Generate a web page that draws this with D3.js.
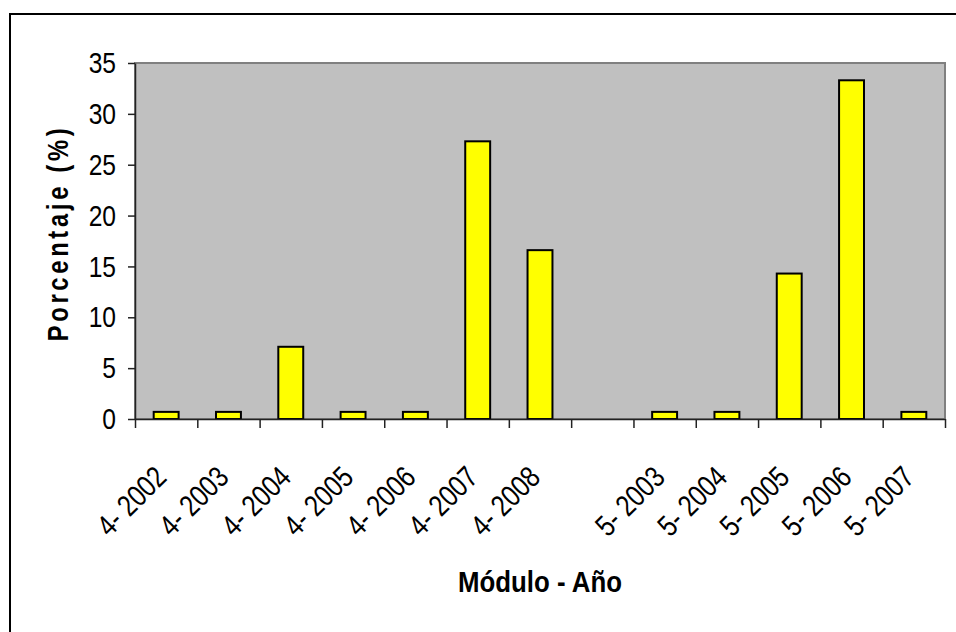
<!DOCTYPE html>
<html>
<head>
<meta charset="utf-8">
<script src="https://cdn.jsdelivr.net/npm/d3@7"></script>
<style>
  html, body { margin: 0; padding: 0; background: #ffffff; }
  svg { display: block; }
  text { font-family: "Liberation Sans", Arial, sans-serif; fill: #000; }
</style>
</head>
<body>
<script>
const categories = ["4- 2002","4- 2003","4- 2004","4- 2005","4- 2006","4- 2007","4- 2008","","5- 2003","5- 2004","5- 2005","5- 2006","5- 2007"];
const values = [0.7, 0.7, 7.1, 0.7, 0.7, 27.3, 16.6, null, 0.7, 0.7, 14.3, 33.3, 0.7];
const yTicks = [0, 5, 10, 15, 20, 25, 30, 35];
const yTitle = "Porcentaje (%)";
const xTitle = "Módulo - Año";

const W = 956, H = 632;
const plot = { left: 135, right: 945, top: 63, bottom: 419 };
const SX = 0.82; // narrow font look

const svg = d3.select("body").append("svg").attr("width", W).attr("height", H);

// outer chart frame (extends past right / bottom edges)
svg.append("rect").attr("x", 10).attr("y", 14).attr("width", 1000).attr("height", 700)
  .attr("fill", "#fff").attr("stroke", "#000").attr("stroke-width", 2);

const idx = d3.range(categories.length);
const x = d3.scaleBand().domain(idx).range([plot.left, plot.right])
  .paddingInner(0.6).paddingOuter(0.3);
const xb = d3.scaleLinear().domain([0, categories.length]).range([plot.left, plot.right]);
const y = d3.scaleLinear().domain([0, 35]).range([plot.bottom, plot.top]);

// plot area
svg.append("rect").attr("x", plot.left).attr("y", plot.top)
  .attr("width", plot.right - plot.left).attr("height", plot.bottom - plot.top)
  .attr("fill", "#C0C0C0").attr("stroke", "#808080").attr("stroke-width", 2);

// bars
svg.append("g").selectAll("rect")
  .data(idx.filter(i => values[i] != null))
  .join("rect")
  .attr("x", i => x(i))
  .attr("y", i => y(values[i]))
  .attr("width", x.bandwidth())
  .attr("height", i => y(0) - y(values[i]))
  .attr("fill", "#FFFF00").attr("stroke", "#000").attr("stroke-width", 2);

// y axis
const ya = svg.append("g").attr("transform", `translate(${plot.left},0)`)
  .call(d3.axisLeft(y).tickValues(yTicks).tickSize(7).tickSizeOuter(0));
ya.select(".domain").attr("stroke", "#222").attr("stroke-width", 1.5);
ya.selectAll(".tick line").attr("stroke", "#222").attr("stroke-width", 1.5);
ya.selectAll(".tick text")
  .attr("x", null).attr("dy", "0.32em")
  .attr("transform", `translate(-19,0) scale(${SX},1)`)
  .style("font-size", "30px").attr("text-anchor", "end");

// x axis (ticks at category boundaries)
const xa = svg.append("g").attr("transform", `translate(0,${plot.bottom})`)
  .call(d3.axisBottom(xb).tickValues(d3.range(categories.length + 1)).tickFormat("").tickSize(9).tickSizeOuter(0));
xa.select(".domain").attr("stroke", "#222").attr("stroke-width", 1.5);
xa.selectAll(".tick line").attr("stroke", "#222").attr("stroke-width", 1.5);

// x category labels, rotated
svg.append("g").selectAll("text")
  .data(idx)
  .join("text")
  .attr("transform", i => `translate(${x(i) + x.bandwidth() / 2 + 2},${plot.bottom + 60}) rotate(-45) scale(${SX},1)`)
  .attr("text-anchor", "end")
  .style("font-size", "30px")
  .text(i => categories[i]);

// y title
svg.append("text")
  .attr("transform", `translate(68,${(plot.top + plot.bottom) / 2 - 8}) rotate(-90) scale(${SX},1)`)
  .attr("text-anchor", "middle")
  .style("font-size", "29px").style("font-weight", "bold").style("letter-spacing", "4.5px")
  .text(yTitle);

// x title
svg.append("text")
  .attr("transform", `translate(540,592) scale(0.89,1)`)
  .attr("text-anchor", "middle")
  .style("font-size", "29px").style("font-weight", "bold")
  .text(xTitle);
</script>
</body>
</html>
